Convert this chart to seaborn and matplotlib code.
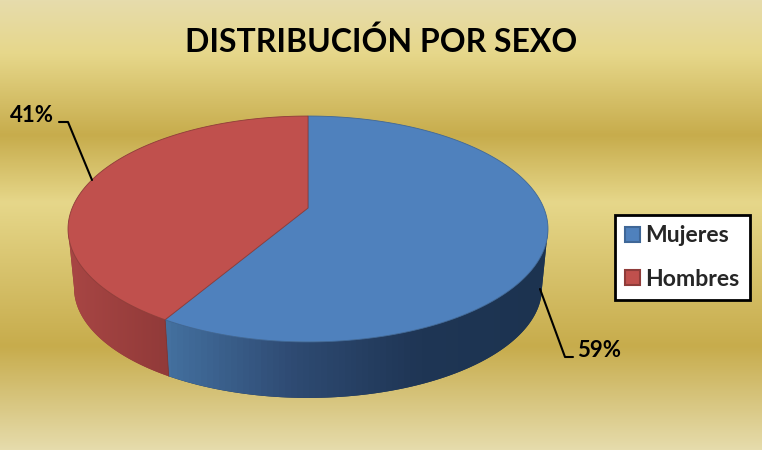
import numpy as np
import matplotlib.pyplot as plt
from matplotlib.patches import Patch
import seaborn as sns

# Chart values
title = "DISTRIBUCIÓN POR SEXO"
categories = ["Mujeres", "Hombres"]
shares = [58.5, 41.5]
share_labels = ["59%", "41%"]

sns.set_theme(style="white")
plt.rcParams['font.family'] = ['Lato', 'DejaVu Sans']

top_colors = ["#4F81BD", "#C0504D"]
edge_colors = ["#3F6797", "#8F3C3A"]
wall_blue = sns.blend_palette(["#44709F", "#2E4A72", "#1F3655", "#1C3350"], 64)
wall_red = sns.blend_palette(["#A84644", "#913A39"], 64)
gold = [(0, "#E6DCAC"), (.12, "#E6D78A"), (.30, "#C7AC4C"),
        (.45, "#E6D78A"), (.77, "#C7AC4C"), (1, "#E6DCAC")]

fig = plt.figure(figsize=(7.62, 4.5), dpi=100)
ax = fig.add_axes([0, 0, 1, 1])


def rim(deg, lower=False):
    # pie seen in perspective: angle clockwise from the back of the disc
    t = np.radians(deg)
    u, v = np.sin(t), np.cos(t)
    d = 1 + 0.1858 * v
    x = 308 + 235.8 * u / d
    y = (208 - 70.4 * v) / d
    if lower:
        x = 308 + 0.975 * (x - 308)
        y = 229 + 0.975 * (y - 229) + 58.8
    return x, y


def wall(deg0, deg1, colors):
    t = np.linspace(deg0, deg1, 200)
    x0, y0 = rim(t)
    x1, y1 = rim(t[::-1], lower=True)
    xs, ys = np.r_[x0, x1], np.r_[y0, y1]
    poly = ax.fill(xs, ys, color=colors[-1], lw=0, zorder=2)[0]
    grad = np.array(colors)[None, :, :]
    im = ax.imshow(grad, extent=[xs.min(), xs.max(), ys.max(), ys.min()],
                   aspect="auto", zorder=3)
    im.set_clip_path(poly)


# background bands
stops = np.linspace(0, 1, 450)
rgb = np.array([plt.matplotlib.colors.to_rgb(c) for _, c in gold])
bg = np.stack([np.interp(stops, [p for p, _ in gold], rgb[:, i]) for i in range(3)], axis=1)
ax.imshow(bg[:, None, :], extent=[0, 762, 450, 0], aspect="auto", zorder=0)

# side walls, only the part facing the viewer
split = 360 * shares[0] / sum(shares)
wall(100.7, split, wall_blue)
wall(split, 259.3, wall_red)
x0, y0 = rim(split)
x1, y1 = rim(split, lower=True)
ax.plot([x0, x1], [y0, y1], color="#7F3533", lw=0.6, zorder=4)

# top faces
start = 0
for share, top, edge in zip(shares, top_colors, edge_colors):
    end = start + 360 * share / sum(shares)
    x, y = rim(np.linspace(start, end, 300))
    ax.fill(np.r_[308, x], np.r_[208, y], facecolor=top, edgecolor=edge, lw=0.6, zorder=5)
    start = end

# leader lines and labels
ax.plot([573, 565, 540], [357, 357, 289], color="black", lw=1.5, zorder=6)
ax.plot([59, 68, 92], [122, 122, 180], color="black", lw=1.5, zorder=6)
ax.text(577, 357, share_labels[0], fontsize=16, fontweight="bold", color="black",
        ha="left", va="baseline", zorder=7)
ax.text(54, 122, share_labels[1], fontsize=16, fontweight="bold", color="black",
        ha="right", va="baseline", zorder=7)

ax.text(381, 52, title, fontsize=23, fontweight="bold", color="black",
        ha="center", va="baseline", zorder=7)

handles = [Patch(facecolor=t, edgecolor=e, lw=1.5) for t, e in zip(top_colors, edge_colors)]
leg = ax.legend(handles, categories, loc="center", bbox_to_anchor=(682.5, 257.5),
                bbox_transform=ax.transData, frameon=True, fancybox=False, framealpha=1,
                facecolor="white", edgecolor="black", prop={"size": 16.6, "weight": "bold"},
                handlelength=0.62, handleheight=0.62, handletextpad=0.25,
                labelspacing=0.98, borderpad=0.43, borderaxespad=0)
leg.get_frame().set_linewidth(2)
leg.set_zorder(8)

ax.set_xlim(0, 762)
ax.set_ylim(450, 0)
ax.axis("off")
fig.savefig("out.png", dpi=100)
